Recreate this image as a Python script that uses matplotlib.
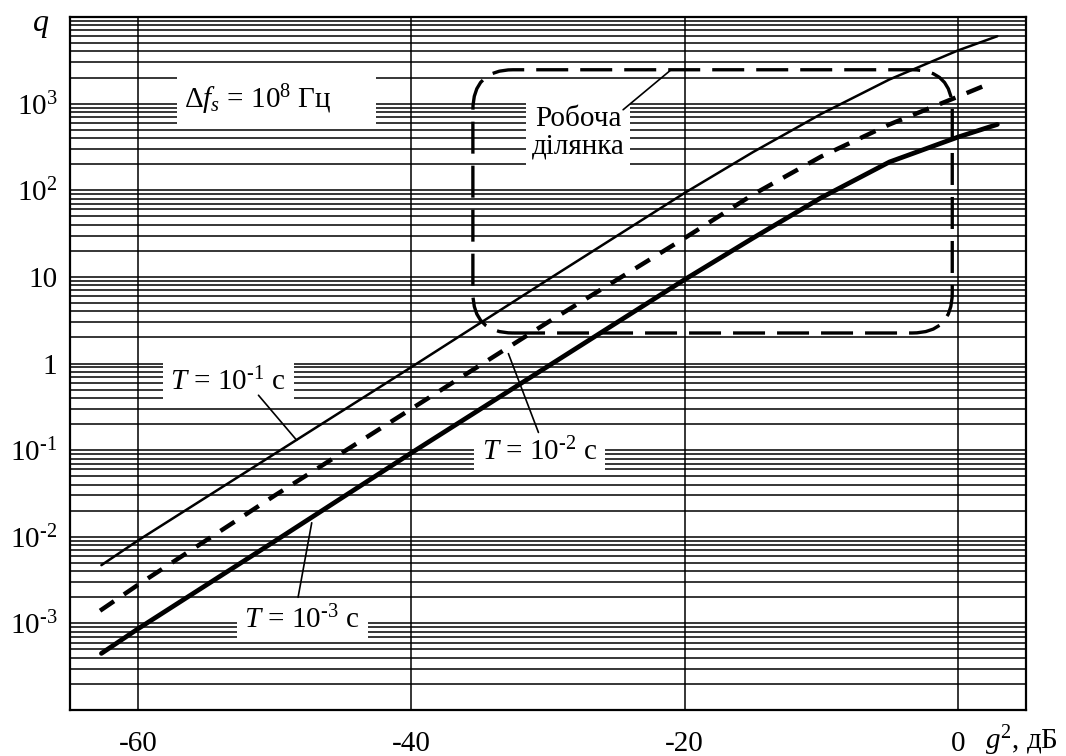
import numpy as np
import matplotlib
matplotlib.use("Agg")
import matplotlib.pyplot as plt
from matplotlib.patches import FancyBboxPatch
from matplotlib.ticker import FixedLocator, LogLocator, NullFormatter

plt.rcParams["font.family"] = "Liberation Serif"
plt.rcParams["mathtext.fontset"] = "custom"
plt.rcParams["mathtext.rm"] = "Liberation Serif"
plt.rcParams["mathtext.it"] = "Liberation Serif:italic"
plt.rcParams["mathtext.bf"] = "Liberation Serif:bold"
plt.rcParams["font.size"] = 21

# values (g^2 in dB, q)
g2_t1 = [-62.7, -60, -50, -40, -30, -20, -15, -10, -5, 0, 2.9]
q_t1 = [4.7e-3, 9.1e-3, 0.091, 0.91, 9.3, 93, 275, 760, 1900, 4100, 6000]

g2_t2 = [-62.8, -60, -50, -40, -30, -20, -15, -10, -5, 0, 2.0]
q_t2 = [1.4e-3, 2.8e-3, 0.030, 0.30, 3.0, 28, 89, 245, 575, 1200, 1620]

g2_t3 = [-62.7, -60, -50, -40, -30, -20, -15, -10, -5, 0, 2.9]
q_t3 = [4.5e-4, 8.7e-4, 8.9e-3, 0.093, 0.93, 9.3, 28, 82, 212, 410, 575]

x_ticks = [-60, -40, -20, 0]
x_labels = ["-60", "-40", "-20", "0"]
y_ticks = [1e-3, 1e-2, 1e-1, 1, 10, 1e2, 1e3]
y_labels = [r"10$^{\text{-}3}$", r"10$^{\text{-}2}$", r"10$^{\text{-}1}$", "1", "10",
            r"10$^{2}$", r"10$^{3}$"]

# working region (g^2 range, q range)
work_g2 = (-35.5, -0.4)
work_q = (2.25, 2460)

fig = plt.figure(figsize=(10.66, 7.56), dpi=100)
ax = fig.add_axes([70 / 1066, 1 - 710 / 756, 956 / 1066, 693 / 756])
ax.set_xlim(-65, 5)
ax.set_yscale("log")
ax.set_ylim(1e-4, 1e4)

ax.set_xticks(x_ticks)
ax.set_xticklabels(x_labels)
ax.yaxis.set_major_locator(FixedLocator(y_ticks))
ax.set_yticklabels(y_labels)
ax.yaxis.set_minor_locator(LogLocator(base=10, subs=np.arange(2, 10), numticks=100))
ax.yaxis.set_minor_formatter(NullFormatter())
ax.tick_params(which="both", length=0)
ax.tick_params(axis="x", pad=15)
ax.tick_params(axis="y", pad=9)
ax.set_axisbelow(True)
ax.grid(which="both", axis="y", color="black", lw=1.1)
ax.grid(which="major", axis="x", color="black", lw=1.1)
for s in ax.spines.values():
    s.set_linewidth(1.6)

ax.plot(g2_t1, q_t1, color="black", lw=1.8, solid_capstyle="round", zorder=5)
ax.plot(g2_t2, q_t2, color="black", lw=3.2, ls=(0, (3.8, 2.7)), zorder=5)
ax.plot(g2_t3, q_t3, color="black", lw=3.4, solid_capstyle="round", zorder=5)


def ax_frac(x, y):
    return ax.transAxes.inverted().transform(ax.transData.transform((x, y)))


x0, y0 = ax_frac(work_g2[0], work_q[0])
x1, y1 = ax_frac(work_g2[1], work_q[1])
box = FancyBboxPatch((x0, y0), x1 - x0, y1 - y0,
                     boxstyle="round,pad=0,rounding_size=0.042",
                     mutation_aspect=956 / 692, transform=ax.transAxes,
                     fill=False, ec="black", lw=2.4, ls=(0, (9.6, 3.6)), zorder=4)
ax.add_patch(box)

wbox = dict(boxstyle="square,pad=0.25", fc="white", ec="none")
leader = dict(arrowstyle="-", lw=1.2, color="black", shrinkA=0, shrinkB=0)

ax.text(-49.9, 1100, r"$\Delta f_s$ = 10$^8$ Гц      ", ha="center", va="center",
        bbox=wbox, zorder=3)

ax.text(-27.8, 460, "Робоча\nділянка", ha="center", va="center",
        linespacing=1.05, bbox=dict(boxstyle="square,pad=0.2", fc="white", ec="none"),
        zorder=3)
ax.annotate("", xy=(-21.0, 2450), xytext=(-24.5, 850), arrowprops=leader, zorder=4)

ax.text(-53.4, 0.61, r"$T$ = 10$^{\text{-}1}$ с ", ha="center", va="center", bbox=wbox, zorder=3)
ax.annotate("", xy=(-48.4, 0.13), xytext=(-51.2, 0.43), arrowprops=leader, zorder=4)

ax.text(-30.6, 0.095, r"$T$ = 10$^{\text{-}2}$ с ", ha="center", va="center", bbox=wbox, zorder=3)
ax.annotate("", xy=(-32.9, 1.3), xytext=(-30.7, 0.16), arrowprops=leader, zorder=4)

ax.text(-48.0, 1.1e-3, r"$T$ = 10$^{\text{-}3}$ с ", ha="center", va="center", bbox=wbox, zorder=3)
ax.annotate("", xy=(-47.3, 0.0145), xytext=(-48.3, 2.0e-3), arrowprops=leader, zorder=4)

fig.text(32 / 1066, 1 - 31 / 756, "$q$", ha="left", va="baseline", fontsize=23)
fig.text(985 / 1066, 1 - 749 / 756, r"$g^2$, дБ", ha="left", va="baseline")

fig.savefig("out.png", dpi=100)
